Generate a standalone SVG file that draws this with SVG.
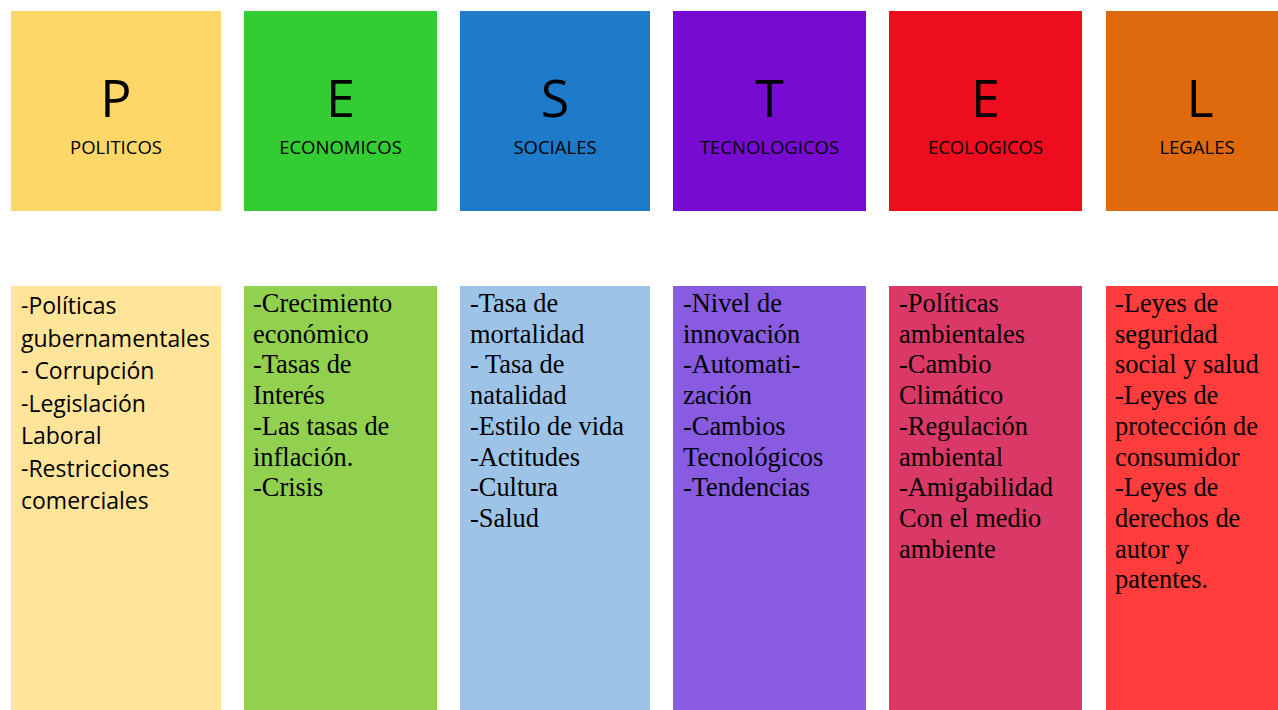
<svg xmlns="http://www.w3.org/2000/svg" width="1278" height="710" viewBox="0 0 1278 710">
<style>
.big{font-family:"Open Sans","Liberation Sans",sans-serif;font-size:52px;fill:#000;text-anchor:middle}
.lab{font-family:"Open Sans","Liberation Sans",sans-serif;font-size:18.5px;fill:#000;text-anchor:middle}
.sans{font-family:"Open Sans","Liberation Sans",sans-serif;font-size:23px;fill:#000}
.serif{font-family:"Liberation Serif","Times New Roman",serif;font-size:26.4px;fill:#000}
</style>
<rect width="1278" height="710" fill="#fff"/>
<g id="P-top"><rect x="11" y="11" width="210" height="200" fill="#FDD767"/><text class="big" x="116" y="117">P</text><text class="lab" x="116" y="154">POLITICOS</text></g>
<g id="E-top"><rect x="244" y="11" width="193" height="200" fill="#33CC33"/><text class="big" x="340.5" y="117">E</text><text class="lab" x="340.5" y="154">ECONOMICOS</text></g>
<g id="S-top"><rect x="460" y="11" width="190" height="200" fill="#1D7BC9"/><text class="big" x="555" y="117">S</text><text class="lab" x="555" y="154">SOCIALES</text></g>
<g id="T-top"><rect x="673" y="11" width="193" height="200" fill="#780BD1"/><text class="big" x="769.5" y="117">T</text><text class="lab" x="769.5" y="154">TECNOLOGICOS</text></g>
<g id="E2-top"><rect x="889" y="11" width="193" height="200" fill="#EE0C1F"/><text class="big" x="985.5" y="117">E</text><text class="lab" x="985.5" y="154">ECOLOGICOS</text></g>
<g id="L-top"><rect x="1106" y="11" width="172" height="200" fill="#DF6A0D"/><text class="big" x="1200" y="117">L</text><text class="lab" x="1197" y="154">LEGALES</text></g>

<g id="P-list"><rect x="11" y="286" width="210" height="424" fill="#FFE499"/>
<text class="sans" x="21" y="314"><tspan x="21">-Políticas</tspan><tspan x="21" dy="32.5">gubernamentales</tspan><tspan x="21" dy="32.5">- Corrupción</tspan><tspan x="21" dy="32.5">-Legislación</tspan><tspan x="21" dy="32.5">Laboral</tspan><tspan x="21" dy="32.5">-Restricciones</tspan><tspan x="21" dy="32.5">comerciales</tspan></text></g>
<g id="E-list"><rect x="244" y="286" width="193" height="424" fill="#92D050"/>
<text class="serif" x="253" y="312"><tspan x="253">-Crecimiento</tspan><tspan x="253" dy="30.7">económico</tspan><tspan x="253" dy="30.7">-Tasas de</tspan><tspan x="253" dy="30.7">Interés</tspan><tspan x="253" dy="30.7">-Las tasas de</tspan><tspan x="253" dy="30.7">inflación.</tspan><tspan x="253" dy="30.7">-Crisis</tspan></text></g>
<g id="S-list"><rect x="460" y="286" width="190" height="424" fill="#9DC3E6"/>
<text class="serif" x="470" y="312"><tspan x="470">-Tasa de</tspan><tspan x="470" dy="30.7">mortalidad</tspan><tspan x="470" dy="30.7">- Tasa de</tspan><tspan x="470" dy="30.7">natalidad</tspan><tspan x="470" dy="30.7">-Estilo de vida</tspan><tspan x="470" dy="30.7">-Actitudes</tspan><tspan x="470" dy="30.7">-Cultura</tspan><tspan x="470" dy="30.7">-Salud</tspan></text></g>
<g id="T-list"><rect x="673" y="286" width="193" height="424" fill="#885BE0"/>
<text class="serif" x="683" y="312"><tspan x="683">-Nivel de</tspan><tspan x="683" dy="30.7">innovación</tspan><tspan x="683" dy="30.7">-Automati-</tspan><tspan x="683" dy="30.7">zación</tspan><tspan x="683" dy="30.7">-Cambios</tspan><tspan x="683" dy="30.7">Tecnológicos</tspan><tspan x="683" dy="30.7">-Tendencias</tspan></text></g>
<g id="E2-list"><rect x="889" y="286" width="193" height="424" fill="#DA3867"/>
<text class="serif" x="899" y="312"><tspan x="899">-Políticas</tspan><tspan x="899" dy="30.7">ambientales</tspan><tspan x="899" dy="30.7">-Cambio</tspan><tspan x="899" dy="30.7">Climático</tspan><tspan x="899" dy="30.7">-Regulación</tspan><tspan x="899" dy="30.7">ambiental</tspan><tspan x="899" dy="30.7">-Amigabilidad</tspan><tspan x="899" dy="30.7">Con el medio</tspan><tspan x="899" dy="30.7">ambiente</tspan></text></g>
<g id="L-list"><rect x="1106" y="286" width="172" height="424" fill="#FF3D3D"/>
<text class="serif" x="1115" y="312"><tspan x="1115">-Leyes de</tspan><tspan x="1115" dy="30.7">seguridad</tspan><tspan x="1115" dy="30.7">social y salud</tspan><tspan x="1115" dy="30.7">-Leyes de</tspan><tspan x="1115" dy="30.7">protección de</tspan><tspan x="1115" dy="30.7">consumidor</tspan><tspan x="1115" dy="30.7">-Leyes de</tspan><tspan x="1115" dy="30.7">derechos de</tspan><tspan x="1115" dy="30.7">autor y</tspan><tspan x="1115" dy="30.7">patentes.</tspan></text></g>
<g id="connectors"/>
</svg>
